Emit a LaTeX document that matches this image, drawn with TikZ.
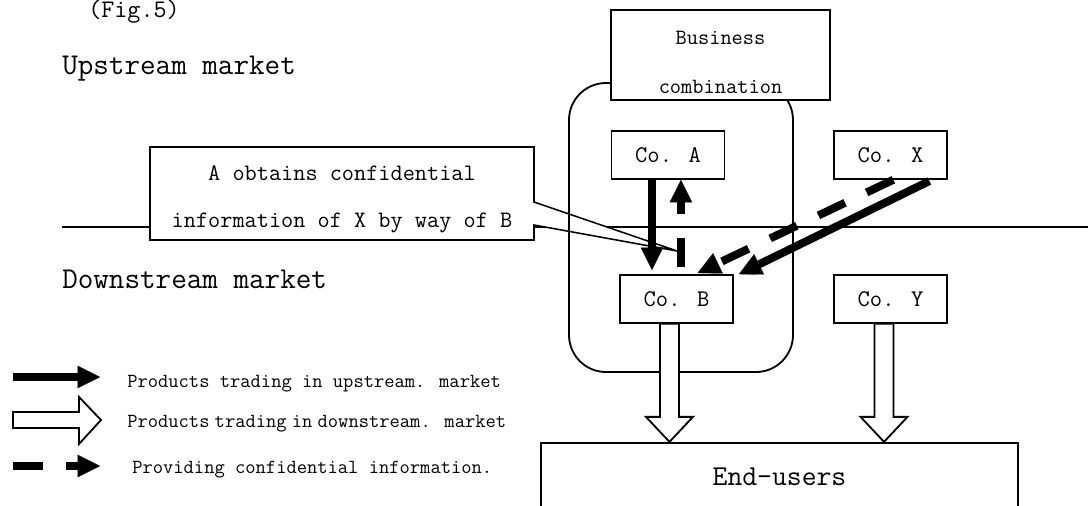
\documentclass[tikz,border=0pt]{standalone}
\usepackage{tikz}
\usetikzlibrary{arrows.meta,calc}

\tikzset{
  cobox/.style={draw, line width=1.1pt, fill=white, minimum width=2.825cm, minimum height=1.2cm, inner sep=0pt, font=\fontsize{17}{20}\selectfont\ttfamily},
  mktlabel/.style={anchor=base west, inner sep=0pt, font=\fontsize{21.5}{26}\selectfont\ttfamily},
  legtext/.style={anchor=base west, inner sep=0pt, font=\fontsize{14.2}{17}\selectfont\ttfamily},
  goods/.style={line width=5.7pt, -{Triangle[length=16pt,width=16pt,line width=0.1pt]}},
  leak/.style={goods, dash pattern=on 21pt off 17pt},
  hollow/.style={draw, line width=1.3pt, fill=white, line join=miter},
}

% hollow arrow pointing down: #1 top of shaft, #2 tip
\newcommand{\hollowdown}[2]{%
  \draw[hollow] (#2) -- ++(-23.5,-25) -- ++(14,0) -- ($(#1)+(-9.5,0)$)
    -- ($(#1)+(9.5,0)$) -- ($(#2)+(9.5,-25)$) -- ++(14,0) -- cycle;}
% narrow space
\newcommand{\nsp}{\hspace{0.26em}}

\begin{document}
\begin{tikzpicture}[x=0.025cm,y=-0.025cm]
\useasboundingbox (0,0) rectangle (1088,506);

% titles
\node[inner sep=0pt, font=\fontsize{18}{22}\selectfont\ttfamily] (fig) at (134,12) {(Fig.5)};
\node[mktlabel] (up) at (62,74) {Upstream market};
\node[mktlabel] (down) at (62,288) {Downstream market};

% market border
\coordinate (divL) at (62,227);
\coordinate (divR) at (1088,227);
\draw[line width=1pt] (divL) -- (divR);

% callout
\coordinate (noteTip) at (677,251);
\draw[line width=1.1pt, fill=white] (150,147) -- (534,147) -- (534,202) -- (noteTip)
  -- (534,225) -- (534,240) -- (150,240) -- cycle;
\node[align=center, inner sep=0pt, font=\fontsize{16.8}{33.4}\selectfont\ttfamily] (note) at (342,199)
  {A obtains confidential\\information of X by way of B};

% combined group
\draw[line width=1.3pt, rounded corners=0.925cm] (569,83) rectangle (793,372);
\node[cobox, minimum width=5.475cm, minimum height=2.25cm] (biz) at (720.5,55) {};
\node[align=center, inner sep=0pt, font=\fontsize{15.5}{35}\selectfont\ttfamily] (bizname)
  at ([yshift=-5.3pt]biz.center) {Business\\combination};

% companies
\node[cobox] (coA) at (668,155) {Co. A};
\node[cobox] (coX) at (890.5,155) {Co. X};
\node[cobox] (coB) at (676.5,299) {Co. B};
\node[cobox] (coY) at (890.5,299) {Co. Y};
\node[draw, line width=1.6pt, minimum width=11.925cm, minimum height=1.7cm, inner sep=0pt,
  font=\fontsize{20.5}{24}\selectfont\ttfamily] (users) at (779.5,477) {End-users};

% trading and information flows
\coordinate (aOut) at ([xshift=-11.4pt]coA.south);
\coordinate (aIn) at ([xshift=9.2pt]coA.south);
\draw[goods, shorten >=3pt] (aOut) -- (aOut |- coB.north);
\draw[leak, shorten <=5pt] (aIn |- coB.north) -- (aIn);
\draw[leak, shorten >=2pt] ([xshift=2pt]coX.south) -- ([xshift=13.2pt]coB.north);
\draw[goods, shorten <=2pt] ([xshift=29.5pt]coX.south) -- ([xshift=3.6pt]coB.north east);

\coordinate (bOut) at ([xshift=-5pt]coB.south);
\coordinate (yOut) at ([xshift=-4.6pt]coY.south);
\hollowdown{bOut}{bOut |- users.north}
\hollowdown{yOut}{yOut |- users.north}

% legend
\coordinate (lg1) at (13,377);
\coordinate (lg2) at (13,420);
\coordinate (lg3) at (13,466);
\draw[goods] (lg1) -- ++(87,0);
\draw[hollow] (lg2) ++(0,-8) -- ++(66,0) -- ++(0,-15) -- ++(22,23) -- ++(-22,24)
  -- ++(0,-16) -- ++(-66,0) -- cycle;
\draw[leak] (lg3) -- ++(87,0);
\node[legtext] (legUp) at (127,387) {Products trading in upstream. market};
\node[legtext] (legDown) at (127,427) {Products\nsp trading\nsp in\nsp downstream. market};
\node[legtext] (legInfo) at (132,473) {Providing confidential information.};
\end{tikzpicture}
\end{document}
